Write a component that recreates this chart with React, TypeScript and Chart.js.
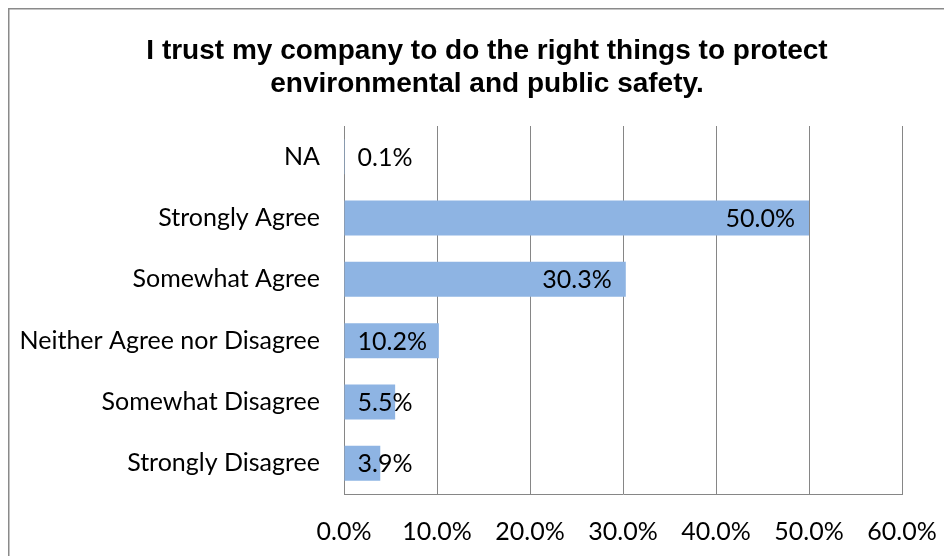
import React, { useEffect, useRef } from "react";
import { Chart, registerables } from "chart.js";

Chart.register(...registerables);

const titleLines = [
  "I trust my company to do the right things to protect",
  "environmental and public safety.",
];
const categories = [
  "NA",
  "Strongly Agree",
  "Somewhat Agree",
  "Neither Agree nor Disagree",
  "Somewhat Disagree",
  "Strongly Disagree",
];
const values = [0.1, 50.0, 30.3, 10.2, 5.5, 3.9];
const xMin = 0;
const xMax = 60;
const xStep = 10;

const LABEL_FONT = '"Lato", "Liberation Sans", sans-serif';
const fmt = (v: number) => `${v.toFixed(1)}%`;

const framePlugin = {
  id: "frame",
  beforeDraw(chart: any) {
    const { ctx, width, height } = chart;
    ctx.save();
    ctx.fillStyle = "#ffffff";
    ctx.fillRect(0, 0, width, height);
    ctx.strokeStyle = "#8a8a8a";
    ctx.lineWidth = 1.5;
    ctx.beginPath();
    ctx.moveTo(0.75, height);
    ctx.lineTo(0.75, 0.75);
    ctx.lineTo(width, 0.75);
    ctx.stroke();
    ctx.restore();
  },
};

const titlePlugin = {
  id: "customTitle",
  afterDraw(chart: any) {
    const { ctx } = chart;
    ctx.save();
    ctx.fillStyle = "#000000";
    ctx.font = 'bold 28px "Liberation Sans", Arial, sans-serif';
    ctx.textAlign = "center";
    ctx.textBaseline = "alphabetic";
    const cx = 479;
    titleLines.forEach((line, i) => {
      ctx.fillText(line, cx, 51 + i * 33);
    });
    ctx.restore();
  },
};

const dataLabelPlugin = {
  id: "dataLabels",
  afterDatasetsDraw(chart: any) {
    const { ctx } = chart;
    const meta = chart.getDatasetMeta(0);
    ctx.save();
    ctx.fillStyle = "#000000";
    ctx.font = `25px ${LABEL_FONT}`;
    ctx.textAlign = "left";
    ctx.textBaseline = "middle";
    meta.data.forEach((bar: any, i: number) => {
      const text = fmt(values[i]);
      const w = ctx.measureText(text).width;
      const left = Math.max(bar.base + 13, bar.x - 14 - w);
      ctx.fillText(text, left, bar.y + 1);
    });
    ctx.restore();
  },
};

export default function App() {
  const canvasRef = useRef<HTMLCanvasElement | null>(null);

  useEffect(() => {
    document.documentElement.style.overflow = "hidden";
    document.body.style.overflow = "hidden";
    const canvas = canvasRef.current;
    if (!canvas) return;
    const chart = new Chart(canvas, {
      type: "bar",
      data: {
        labels: categories,
        datasets: [
          {
            data: values,
            backgroundColor: "#8EB4E3",
            borderWidth: 0,
            categoryPercentage: 1,
            barPercentage: 0.57,
          },
        ],
      },
      options: {
        indexAxis: "y",
        responsive: false,
        animation: false,
        devicePixelRatio: 1,
        layout: { padding: { top: 118, right: 50, left: 0, bottom: 0 } },
        plugins: {
          legend: { display: false },
          tooltip: { enabled: false },
          title: { display: false },
        },
        scales: {
          x: {
            min: xMin,
            max: xMax,
            ticks: {
              stepSize: xStep,
              callback: (v: any) => fmt(Number(v)),
              font: { family: LABEL_FONT, size: 25 },
              color: "#000000",
              padding: 23,
              maxRotation: 0,
            },
            grid: { color: "#868686", lineWidth: 1, drawTicks: false },
            border: { display: true, color: "#868686", width: 1 },
            afterFit: (scale: any) => {
              scale.height = 62;
              scale.paddingLeft = 0;
              scale.paddingRight = 0;
            },
          },
          y: {
            ticks: {
              font: { family: LABEL_FONT, size: 25 },
              color: "#000000",
              padding: 24,
            },
            grid: { display: false, drawTicks: false },
            border: { display: true, color: "#868686", width: 1 },
            afterFit: (scale: any) => {
              scale.width = 336;
            },
          },
        },
      },
      plugins: [framePlugin, dataLabelPlugin, titlePlugin],
    });
    return () => chart.destroy();
  }, []);

  return (
    <div style={{ width: 944, height: 548, position: "relative" }}>
      <style>{`html,body{overflow:hidden}`}</style>
      <canvas ref={canvasRef} width={944} height={548} style={{ width: 944, height: 548, display: "block" }} />
    </div>
  );
}
